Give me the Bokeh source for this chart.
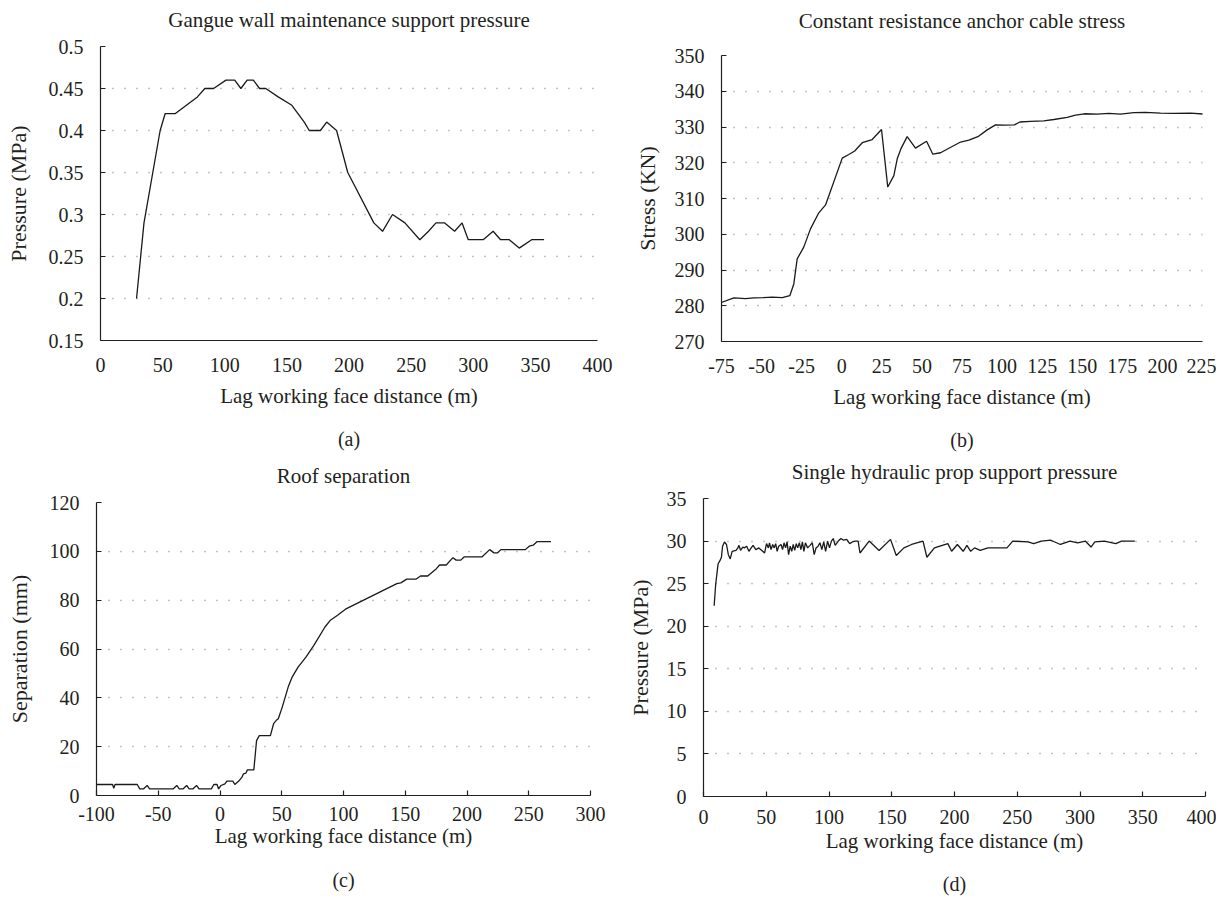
from bokeh.plotting import figure
from bokeh.layouts import column, row
from bokeh.models import Range1d, FixedTicker, CustomJSTickFormatter, LinearAxis
from bokeh.embed import file_html
from bokeh.resources import INLINE

FONT = "Liberation Serif"
TXT = "#231f20"

# ---- data ----
a_x = [29, 35, 48, 52, 60, 78, 84, 91, 101, 108, 113, 118, 123, 128, 133, 143, 154, 164, 168, 177,
       182, 190, 199, 220, 227, 235, 245, 257, 264, 270, 277, 285, 291, 296, 308, 316, 322, 329, 337, 347, 357]
a_y = [0.20, 0.29, 0.40, 0.42, 0.42, 0.44, 0.45, 0.45, 0.46, 0.46, 0.45, 0.46, 0.46, 0.45, 0.45, 0.44, 0.43,
       0.41, 0.40, 0.40, 0.41, 0.40, 0.35, 0.29, 0.28, 0.30, 0.29, 0.27, 0.28, 0.29, 0.29, 0.28, 0.29, 0.27,
       0.27, 0.28, 0.27, 0.27, 0.26, 0.27, 0.27]

b_x = [-77.7, -67.3, -60, -54.8, -48.6, -43.4, -37.1, -32.4, -29.9, -27.8, -23.7, -19.5, -14.3, -10.1, 0.3,
       4.4, 8.1, 12.8, 19.0, 24.8, 28.7, 32.5, 34.6, 37.1, 40.8, 46.0, 52.9, 56.8, 61.6, 74.1, 79.3, 84.9,
       90.7, 95.9, 101.1, 107.7, 111.1, 117.7, 126.0, 132.3, 140.6, 145.8, 151.4, 159.3, 166.6, 173.9, 182.2,
       189.5, 198.8, 207.1, 217.5, 226.3]
b_y = [280.5, 282.2, 282.0, 282.2, 282.3, 282.4, 282.3, 282.8, 286.1, 293.1, 296.4, 301.5, 306.0, 308.2, 321.3,
       322.3, 323.3, 325.6, 326.5, 329.3, 313.2, 316.4, 321.1, 324.1, 327.3, 324.1, 326.0, 322.4, 322.8, 325.8,
       326.3, 327.3, 329.2, 330.6, 330.5, 330.6, 331.4, 331.6, 331.7, 332.1, 332.7, 333.3, 333.7, 333.6, 333.8,
       333.6, 334.0, 334.1, 333.9, 333.8, 333.9, 333.6]

c_x = [-100, -87, -86, -85, -67, -65, -62, -59, -57, -38, -35, -33, -30, -27, -25, -22, -19, -17, -7, -5,
       -2.4, -1.1, 0.8, 4, 5.6, 10.4, 12, 15.2, 17.8, 19, 21, 22.2, 27.4, 29.6, 31.8, 40.8, 43.4, 45.6, 47.2,
       50.4, 55.2, 58.4, 63.2, 69.6, 76, 85, 89.4, 95.2, 101.6, 143.2, 146.4, 151.2, 158.6, 162.4, 168.2,
       175.2, 177.8, 183.2, 188.6, 191.2, 195, 197.6, 212, 218.4, 221.6, 224.8, 227.4, 247.2, 250.4, 253.6,
       256.8, 268]
c_y = [4.5, 4.5, 3.0, 4.5, 4.5, 2.7, 2.7, 4.1, 2.7, 2.7, 4.1, 2.7, 2.7, 4.1, 2.7, 2.7, 4.1, 2.7, 2.7, 4.5,
       4.5, 2.7, 4.1, 4.8, 5.9, 5.9, 4.5, 5.9, 7.5, 8.9, 9.2, 10.5, 10.5, 22.5, 24.5, 24.5, 29.4, 30.8, 31.4,
       36.2, 44.4, 48.5, 52.6, 56.7, 61.5, 69, 71.8, 73.8, 76.3, 86.8, 87.1, 88.6, 88.6, 89.9, 89.9, 92.9,
       94.4, 94.4, 97.4, 96.4, 96.4, 97.7, 97.7, 100.7, 99.4, 99.4, 100.7, 100.7, 102.1, 102.5, 104, 104]

d_x = [8.5, 9.7, 11.6, 13.1, 14.3, 15.2, 16.7, 18.3, 19.8, 21.3,
       22.8, 25.9, 27.4, 28.3, 29.5, 31.3, 32.5, 34.4, 36.2, 38,
       39.5, 41.7, 44.1, 46.5, 48.7, 50.2, 51.7, 52.6, 53.8, 55.1,
       56.3, 57.5, 58.7, 59.9, 61.8, 63, 64.2, 65.4, 66.6, 67.8,
       69.1, 70.3, 71.5, 72.7, 73.9, 75.1, 76.4, 77.6, 78.8, 80,
       81.2, 83, 84.9, 86.7, 88.2, 89.7, 91.3, 92.8, 94.3, 95.8,
       97.3, 98.9, 100.4, 101.9, 103.4, 104.9, 107.4, 109.5, 111.6, 114.1,
       116.5, 118.6, 120.8, 123.2, 124.7, 132, 139.9, 149, 153.6, 159.7,
       165.8, 174.9, 178, 184, 194.7, 197.7, 202.3, 206.9, 209.9, 212.9,
       216, 220.5, 226.6, 241.8, 246.4, 258.6, 263.1, 269.2, 276.8, 284.4,
       292, 298.1, 304.2, 308.8, 311.8, 319.4, 328.5, 333.1, 343.7]
d_y = [22.4, 24.9, 27.3, 27.7, 28.1, 29.4, 29.9, 29.6, 28.4, 27.9,
       28.8, 28.9, 29.2, 29.5, 28.9, 29.3, 29.2, 29.4, 28.8, 29.2,
       29.5, 29.0, 29.2, 28.9, 28.6, 29.7, 29.2, 29.8, 29.0, 29.6,
       29.2, 29.7, 28.8, 29.4, 29.6, 29.0, 29.8, 29.2, 29.9, 28.4,
       29.4, 28.8, 29.6, 28.9, 29.7, 29.2, 29.8, 29.0, 29.9, 28.8,
       29.8, 29.2, 29.5, 29.8, 28.4, 29.2, 29.4, 29.8, 29.0, 29.9,
       28.8, 30.0, 29.2, 30.0, 30.3, 29.5, 30.0, 30.3, 30.1, 30.2,
       29.7, 29.9, 30.0, 30.0, 28.6, 30.0, 28.9, 30.2, 28.3, 29.2,
       29.6, 30.0, 28.1, 29.2, 29.7, 28.8, 29.6, 28.8, 29.5, 28.8,
       29.2, 28.9, 29.2, 29.2, 30.0, 29.9, 29.7, 30.0, 30.1, 29.6,
       30.0, 29.8, 30.0, 29.3, 29.9, 30.0, 29.7, 30.0, 30.0]

a_xticks = [0, 50, 100, 150, 200, 250, 300, 350, 400]
a_yticks = [0.15, 0.2, 0.25, 0.3, 0.35, 0.4, 0.45, 0.5]
b_xticks = [-75, -50, -25, 0, 25, 50, 75, 100, 125, 150, 175, 200, 225]
b_yticks = [270, 280, 290, 300, 310, 320, 330, 340, 350]
c_xticks = [-100, -50, 0, 50, 100, 150, 200, 250, 300]
c_yticks = [0, 20, 40, 60, 80, 100, 120]
d_xticks = [0, 50, 100, 150, 200, 250, 300, 350, 400]
d_yticks = [0, 5, 10, 15, 20, 25, 30, 35]

XLAB = "Lag working face distance (m)"


def text_axis(label, standoff, size):
    return LinearAxis(axis_label=label, ticker=FixedTicker(ticks=[]),
                      axis_line_color=None, major_tick_line_color=None, minor_tick_line_color=None,
                      major_tick_in=0, major_tick_out=0, major_label_standoff=0,
                      major_label_text_font_size="0px",
                      axis_label_standoff=standoff, axis_label_text_font=FONT,
                      axis_label_text_font_size=size, axis_label_text_font_style="normal",
                      axis_label_text_color=TXT)


def make_panel(title, xs, ys, xr, yr, xticks, yticks, ylabel, caption,
               frame, borders, title_standoff, x_ticks_in, xl_standoff, xa_standoff,
               cap_standoff, ya_standoff):
    fw, fh = frame
    bl, bt, br, bb = borders
    p = figure(frame_width=fw, frame_height=fh, min_border_left=bl, min_border_top=bt,
               min_border_right=br, min_border_bottom=bb,
               x_range=Range1d(*xr), y_range=Range1d(*yr),
               output_backend="svg", toolbar_location=None)
    p.title.text_font_size = "0px"
    p.title.standoff = 0
    p.outline_line_color = None
    p.background_fill_color = "white"
    p.border_fill_color = "white"

    p.line(xs, ys, line_color="#1a1a1a", line_width=1.3)

    fmt = CustomJSTickFormatter(code="return tick.toString();")
    xa = p.xaxis[0]
    ya = p.yaxis[0]
    xa.ticker = FixedTicker(ticks=xticks)
    ya.ticker = FixedTicker(ticks=yticks)
    xa.formatter = fmt
    ya.formatter = fmt
    for ax in (xa, ya):
        ax.axis_line_color = "#231f20"
        ax.axis_line_width = 1.2
        ax.major_tick_line_color = "#231f20"
        ax.major_tick_line_width = 1.2
        ax.minor_tick_line_color = None
        ax.major_label_text_font = FONT
        ax.major_label_text_font_size = "20px"
        ax.major_label_text_color = TXT
        ax.axis_label_text_font = FONT
        ax.axis_label_text_font_size = "21px"
        ax.axis_label_text_font_style = "normal"
        ax.axis_label_text_color = TXT
    ya.axis_label_text_font_size = "22px"
    ya.major_tick_in = 5
    ya.major_tick_out = 0
    ya.major_label_standoff = 17
    ya.axis_label = ylabel
    ya.axis_label_standoff = ya_standoff
    xa.major_tick_in = 5 if x_ticks_in else 0
    xa.major_tick_out = 0
    xa.major_label_standoff = xl_standoff
    xa.axis_label = XLAB
    xa.axis_label_standoff = xa_standoff

    p.xgrid.grid_line_color = None
    p.ygrid.grid_line_color = "#8a8a8a"
    p.ygrid.grid_line_dash = "1 11"
    p.ygrid.grid_line_width = 1.3

    p.add_layout(text_axis(title, title_standoff, "21px"), "above")
    p.add_layout(text_axis(caption, cap_standoff, "20px"), "below")
    return p


pa = make_panel("Gangue wall maintenance support pressure", a_x, a_y, (0, 400), (0.15, 0.5),
                a_xticks, a_yticks, "Pressure (MPa)", "(a)",
                (497, 294), (100, 46, 21, 115), 15, False, 17, 9, 17, 15)
pb = make_panel("Constant resistance anchor cable stress", b_x, b_y, (-75, 225), (270, 350),
                b_xticks, b_yticks, "Stress (KN)", "(b)",
                (481, 286), (103, 55, 14, 114), 23, False, 17, 9, 17, 12)
pc = make_panel("Roof separation", c_x, c_y, (-100, 300), (0, 120),
                c_xticks, c_yticks, "Separation (mm)", "(c)",
                (494, 293), (96, 47, 28, 96), 15, True, 11, 0, 18, 15)
pd = make_panel("Single hydraulic prop support pressure", d_x, d_y, (0, 400), (0, 35),
                d_xticks, d_yticks, "Pressure (MPa)", "(d)",
                (502, 298), (85, 43, 11, 98), 15, True, 13, 2, 17, 11)

layout = column(row(column(pa), column(pb)), row(column(pc), column(pd)))

with open("out.html", "w") as f:
    f.write(file_html(layout, INLINE))
